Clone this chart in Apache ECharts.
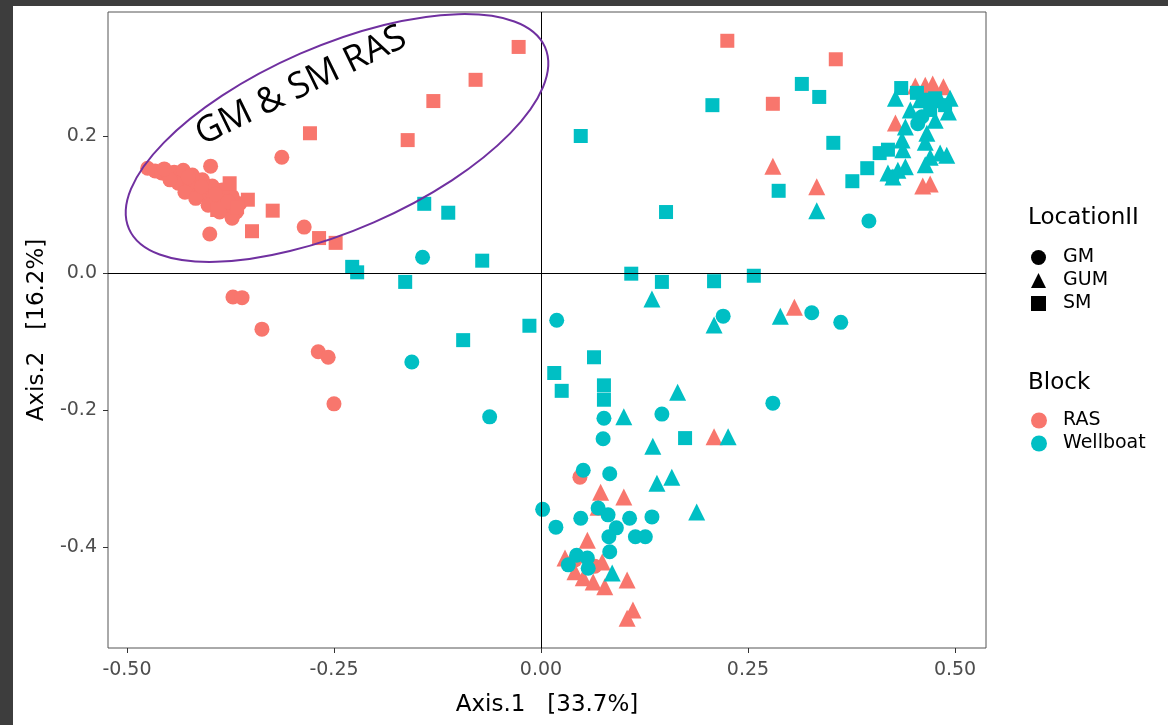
<!DOCTYPE html>
<html>
<head>
<meta charset="utf-8">
<script src="https://cdn.jsdelivr.net/npm/echarts@6/dist/echarts.min.js"></script>
<style>
  html, body { margin: 0; padding: 0; background: #fff; }
  #main { width: 1168px; height: 725px; }
</style>
</head>
<body>
<div id="main"></div>
<script>
// PCoA scores, [Axis.1, Axis.2]
var rasGM = [
  [-0.475, 0.153], [-0.466, 0.149], [-0.458, 0.146], [-0.450, 0.142], [-0.443, 0.147],
  [-0.436, 0.142], [-0.430, 0.136], [-0.438, 0.131], [-0.424, 0.128], [-0.417, 0.124],
  [-0.412, 0.118], [-0.405, 0.114], [-0.397, 0.108], [-0.390, 0.104], [-0.383, 0.099],
  [-0.376, 0.095], [-0.368, 0.089], [-0.364, 0.101], [-0.373, 0.112], [-0.385, 0.121],
  [-0.397, 0.127], [-0.409, 0.136], [-0.421, 0.143], [-0.432, 0.150], [-0.448, 0.136],
  [-0.430, 0.118], [-0.417, 0.109], [-0.402, 0.099], [-0.388, 0.089], [-0.373, 0.080],
  [-0.455, 0.152], [-0.426, 0.140], [-0.410, 0.126], [-0.393, 0.115], [-0.378, 0.104],
  [-0.399, 0.156], [-0.313, 0.169], [-0.400, 0.057], [-0.286, 0.067],
  [-0.372, -0.035], [-0.361, -0.036], [-0.337, -0.082], [-0.269, -0.115], [-0.257, -0.123],
  [-0.250, -0.191],
  [0.047, -0.298], [0.041, -0.419], [0.065, -0.428]
];
var rasGUM = [
  [0.280, 0.156], [0.333, 0.126], [0.428, 0.219], [0.452, 0.273], [0.464, 0.274],
  [0.473, 0.276], [0.486, 0.272], [0.461, 0.127], [0.470, 0.130], [0.306, -0.050],
  [0.209, -0.239], [0.072, -0.320], [0.100, -0.327], [0.069, -0.342], [0.056, -0.390],
  [0.029, -0.416], [0.074, -0.422], [0.051, -0.445], [0.063, -0.451], [0.077, -0.458],
  [0.104, -0.448], [0.111, -0.492], [0.104, -0.504], [0.041, -0.436]
];
var rasSM = [
  [-0.027, 0.330], [-0.079, 0.282], [-0.130, 0.251], [-0.279, 0.204], [-0.161, 0.194],
  [-0.324, 0.091], [-0.349, 0.061], [-0.268, 0.051], [-0.248, 0.044], [-0.376, 0.131],
  [-0.354, 0.107], [-0.367, 0.096], [-0.391, 0.092], [0.225, 0.339], [0.356, 0.312],
  [0.280, 0.247]
];
var wbGM = [
  [-0.143, 0.023], [-0.156, -0.130], [-0.062, -0.210], [0.396, 0.076], [0.019, -0.069],
  [0.220, -0.063], [0.327, -0.058], [0.362, -0.072], [0.076, -0.212], [0.146, -0.206],
  [0.075, -0.242], [0.280, -0.190], [0.051, -0.288], [0.083, -0.293], [0.002, -0.345],
  [0.018, -0.371], [0.048, -0.358], [0.069, -0.343], [0.081, -0.353], [0.107, -0.358],
  [0.134, -0.356], [0.091, -0.372], [0.082, -0.385], [0.114, -0.385], [0.126, -0.385],
  [0.083, -0.407], [0.043, -0.412], [0.056, -0.416], [0.033, -0.426], [0.057, -0.431],
  [0.460, 0.228], [0.424, 0.140], [0.455, 0.218]
];
var wbGUM = [
  [0.134, -0.038], [0.209, -0.076], [0.289, -0.063], [0.165, -0.174], [0.100, -0.210],
  [0.135, -0.253], [0.226, -0.239], [0.140, -0.307], [0.158, -0.298], [0.188, -0.349],
  [0.086, -0.438], [0.333, 0.091], [0.425, 0.140], [0.428, 0.255], [0.440, 0.213],
  [0.436, 0.194], [0.431, 0.150], [0.440, 0.155], [0.419, 0.146], [0.466, 0.204],
  [0.470, 0.169], [0.482, 0.175], [0.490, 0.172], [0.494, 0.255], [0.492, 0.235],
  [0.482, 0.253], [0.464, 0.191], [0.437, 0.180], [0.458, 0.253], [0.476, 0.223],
  [0.446, 0.238], [0.464, 0.158]
];
var wbSM = [
  [-0.141, 0.101], [-0.112, 0.088], [-0.071, 0.018], [-0.228, 0.009], [-0.222, 0.001],
  [-0.164, -0.013], [-0.094, -0.098], [-0.014, -0.077], [0.048, 0.200], [0.207, 0.245],
  [0.315, 0.276], [0.336, 0.257], [0.353, 0.190], [0.287, 0.120], [0.151, 0.089],
  [0.376, 0.134], [0.394, 0.153], [0.409, 0.175], [0.419, 0.180], [0.109, -0.001],
  [0.146, -0.013], [0.209, -0.012], [0.257, -0.004], [0.064, -0.123], [0.016, -0.146],
  [0.025, -0.172], [0.076, -0.164], [0.076, -0.185], [0.174, -0.241], [0.435, 0.270],
  [0.454, 0.263], [0.464, 0.253], [0.476, 0.255], [0.488, 0.245], [0.470, 0.238]
];

var xTicks = [-0.5, -0.25, 0, 0.25, 0.5];
var yTicks = [-0.4, -0.2, 0, 0.2];

var RED = '#F8766D', TEAL = '#00BFC4';
var FONT = 'DejaVu Sans';

var myChart = echarts.init(document.getElementById('main'));

function pts(name, data, symbol, size, color) {
  return {
    name: name, type: 'scatter', data: data, symbol: symbol, symbolSize: size,
    itemStyle: { color: color, opacity: 1 }, emphasis: { disabled: true }
  };
}

var series = [
  pts('RAS GM', rasGM, 'circle', 15, RED),
  pts('RAS GUM', rasGUM, 'triangle', 17, RED),
  pts('RAS SM', rasSM, 'rect', 14, RED),
  pts('Wellboat GM', wbGM, 'circle', 15, TEAL),
  pts('Wellboat GUM', wbGUM, 'triangle', 17, TEAL),
  pts('Wellboat SM', wbSM, 'rect', 14, TEAL),
  // legend-only entries
  pts('GM', [], 'circle', 15, '#000'),
  pts('GUM', [], 'triangle', 15, '#000'),
  pts('SM', [], 'rect', 15, '#000'),
  pts('RAS', [], 'circle', 16, RED),
  pts('Wellboat', [], 'circle', 16, TEAL)
];
// zero reference lines
series[0].markLine = {
  silent: true, symbol: 'none', label: { show: false },
  lineStyle: { color: '#000', width: 1, type: 'solid' },
  data: [{ xAxis: 0 }, { yAxis: 0 }]
};

myChart.setOption({
  animation: false,
  backgroundColor: '#fff',
  grid: { left: 108, top: 12, width: 878, height: 636, show: true, borderColor: '#555', borderWidth: 1 },
  xAxis: {
    type: 'value', min: -0.5229, max: 0.5374,
    name: 'Axis.1   [33.7%]', nameLocation: 'middle', nameGap: 46,
    nameTextStyle: { color: '#000', fontSize: 23, fontFamily: FONT },
    axisLine: { show: false, onZero: false },
    axisTick: { show: true, length: 5, customValues: xTicks, lineStyle: { color: '#333' } },
    axisLabel: { customValues: xTicks, margin: 13, color: '#4d4d4d', fontSize: 19, fontFamily: FONT,
      formatter: function (v) { return v.toFixed(2); } },
    splitLine: { show: false }
  },
  yAxis: {
    type: 'value', min: -0.5474, max: 0.381,
    name: 'Axis.2   [16.2%]', nameLocation: 'middle', nameGap: 57,
    nameTextStyle: { color: '#000', fontSize: 23, fontFamily: FONT },
    axisLine: { show: false, onZero: false },
    axisTick: { show: true, length: 5, customValues: yTicks, lineStyle: { color: '#333' } },
    axisLabel: { customValues: yTicks, margin: 11, color: '#4d4d4d', fontSize: 19, fontFamily: FONT,
      formatter: function (v) { return v.toFixed(1); } },
    splitLine: { show: false }
  },
  title: [
    { text: 'LocationII', left: 1028, top: 207, padding: 0,
      textStyle: { color: '#000', fontSize: 23, fontWeight: 'normal', fontFamily: FONT, lineHeight: 23 } },
    { text: 'Block', left: 1028, top: 372, padding: 0,
      textStyle: { color: '#000', fontSize: 23, fontWeight: 'normal', fontFamily: FONT, lineHeight: 23 } }
  ],
  legend: [
    { orient: 'vertical', left: 1031, top: 248, padding: 0, itemGap: 4, itemWidth: 15, itemHeight: 15,
      selectedMode: false,
      textStyle: { color: '#000', fontSize: 19, fontFamily: FONT, lineHeight: 19, padding: [0, 0, 0, 12] },
      data: [{ name: 'GM', icon: 'circle' }, { name: 'GUM', icon: 'triangle' }, { name: 'SM', icon: 'rect' }] },
    { orient: 'vertical', left: 1031, top: 411, padding: 0, itemGap: 4, itemWidth: 16, itemHeight: 16,
      selectedMode: false,
      textStyle: { color: '#000', fontSize: 19, fontFamily: FONT, lineHeight: 19, padding: [0, 0, 0, 11] },
      data: [{ name: 'RAS', icon: 'circle' }, { name: 'Wellboat', icon: 'circle' }] }
  ],
  graphic: [
    { type: 'rect', shape: { x: 0, y: 0, width: 1168, height: 6 }, style: { fill: '#3d3d3d' }, z: 100 },
    { type: 'rect', shape: { x: 0, y: 0, width: 13, height: 725 }, style: { fill: '#3d3d3d' }, z: 100 },
    { type: 'ellipse', x: 337, y: 138, rotation: 23.6 * Math.PI / 180,
      shape: { cx: 0, cy: 0, rx: 227, ry: 92 },
      style: { fill: null, stroke: '#7030a0', lineWidth: 2 }, z: 50 },
    { type: 'text', x: 301, y: 86, rotation: 26 * Math.PI / 180,
      style: { text: 'GM & SM RAS', fontSize: 36, fontFamily: 'Open Sans', fill: '#000',
        align: 'center', verticalAlign: 'middle' }, z: 50 }
  ],
  series: series
});
</script>
</body>
</html>
